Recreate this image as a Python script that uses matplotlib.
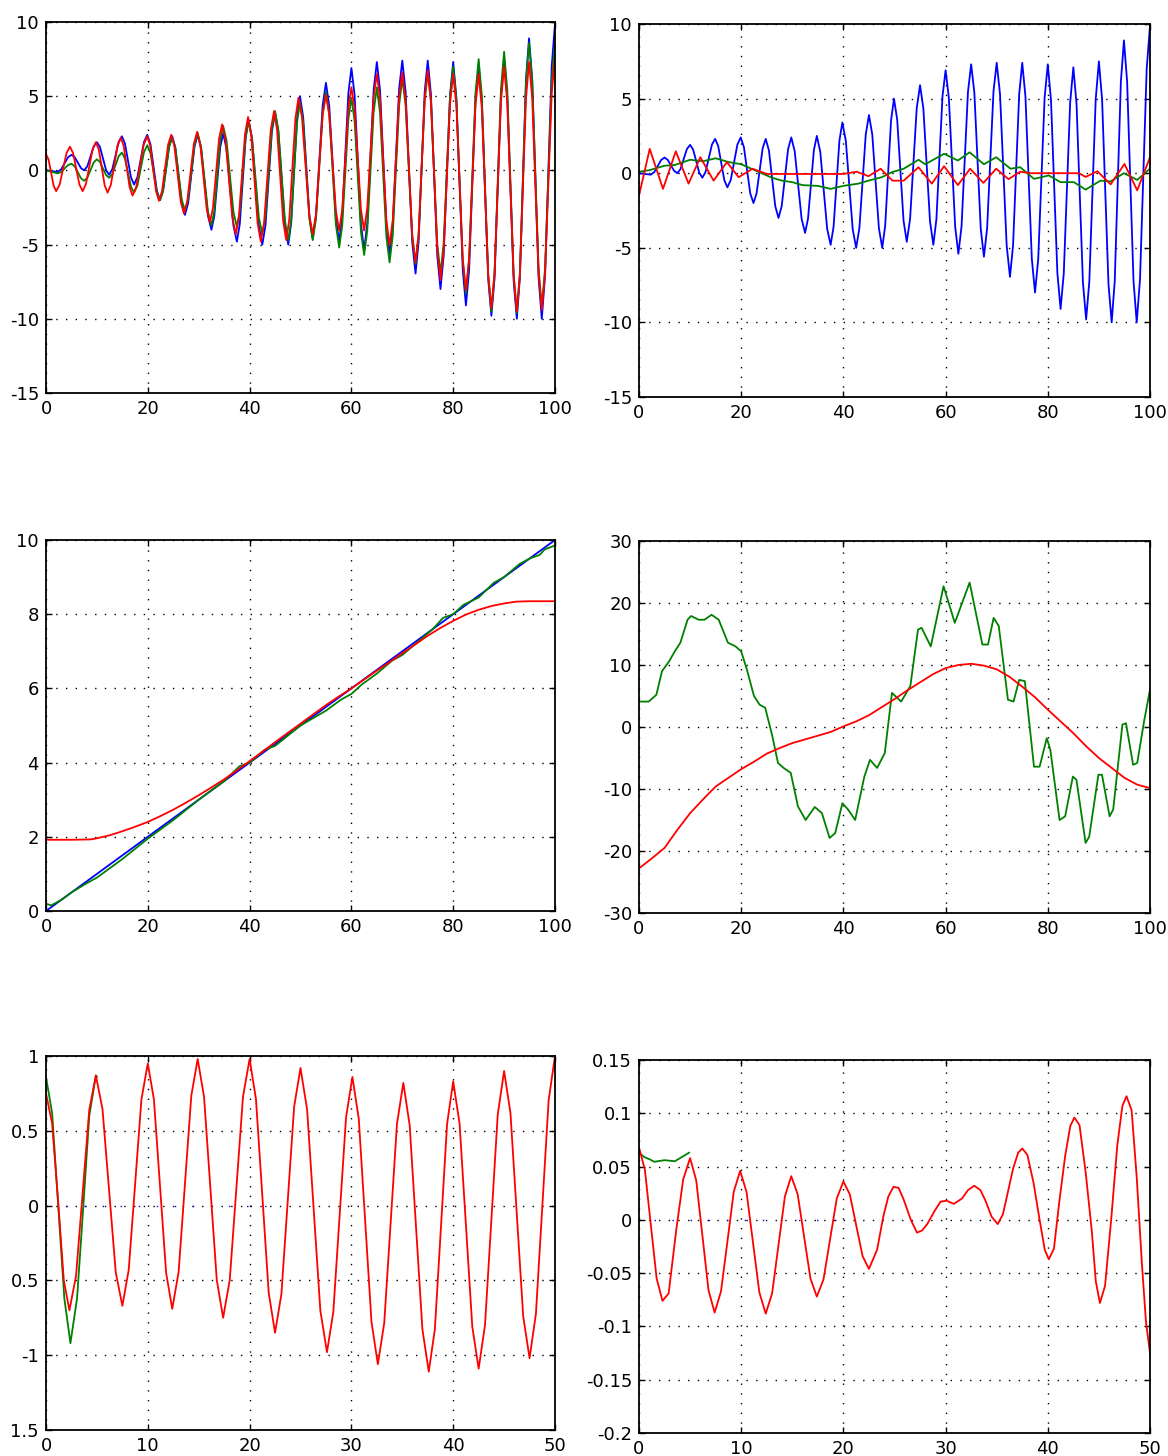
"""Six-panel tracking comparison (MATLAB-style figure)."""

import matplotlib

matplotlib.use("Agg")
import matplotlib.pyplot as plt

BLUE = "#0000ff"
GREEN = "#008000"
RED = "#ff0000"

# ---- true oscillating signal (blue, top panels) ------------------------------
sig_x = [0, 2.3, 2.975, 4.325, 5.0, 5.625, 6.875, 7.5, 8.125, 9.375, 10, 10.6, 11.8, 12.4,
         13.025, 14.275, 14.9, 15.5, 16.7, 17.3, 17.95, 19.25, 19.9, 20.525, 21.775, 22.4,
         23.0, 24.2, 24.8, 25.425, 26.675, 27.3, 27.925, 29.175, 29.8, 30.475, 31.825, 32.5,
         33.075, 34.225, 34.8, 35.475, 36.825, 37.5, 38.075, 39.225, 39.8, 40.475, 41.825,
         42.5, 43.125, 44.375, 45.0, 45.65, 46.95, 47.6, 48.175, 49.325, 49.9, 50.525,
         51.775, 52.4, 53.05, 54.35, 55.0, 55.65, 56.95, 57.6, 58.2, 59.4, 60, 60.625,
         61.875, 62.5, 63.125, 64.375, 65, 65.625, 66.875, 67.5, 68.125, 69.375, 70, 70.65,
         71.95, 72.6, 73.2, 74.4, 75, 75.625, 76.875, 77.5, 78.125, 79.375, 80, 80.625,
         81.875, 82.5, 83.125, 84.375, 85, 85.625, 86.875, 87.5, 88.125, 89.375, 90, 90.625,
         91.875, 92.5, 93.1, 94.3, 94.9, 95.525, 96.775, 97.4, 98.05, 99.35, 100]
sig_y = [0, -0.1, 0.068, 0.882, 1.05, 0.896, 0.154, 0.0, 0.278, 1.622, 1.9, 1.578, 0.022,
         -0.3, 0.081, 1.919, 2.3, 1.824, -0.474, -0.95, -0.459, 1.909, 2.4, 1.755, -1.355,
         -2.0, -1.370, 1.670, 2.3, 1.524, -2.224, -3.0, -2.209, 1.609, 2.4, 1.462, -3.062,
         -4.0, -3.048, 1.548, 2.5, 1.431, -3.731, -4.8, -3.599, 2.199, 3.4, 2.169, -3.769,
         -5.0, -3.696, 2.596, 3.9, 2.596, -3.696, -5.0, -3.535, 3.535, 5.0, 3.594, -3.194,
         -4.6, -3.062, 4.362, 5.9, 4.332, -3.232, -4.8, -3.086, 5.186, 6.9, 5.098, -3.598,
         -5.4, -3.539, 5.439, 7.3, 5.410, -3.710, -5.6, -3.696, 5.496, 7.4, 5.298, -4.848,
         -6.95, -4.848, 5.298, 7.4, 5.144, -5.744, -8.0, -5.759, 5.059, 7.3, 4.897, -6.697,
         -9.1, -6.727, 4.727, 7.1, 4.624, -7.324, -9.8, -7.266, 4.966, 7.5, 4.936, -7.436,
         -10.0, -7.231, 6.131, 8.9, 6.131, -7.231, -10.0, -7.085, 6.985, 9.9]

# ---- panel 1 (top left): green and red estimates -------------------------------
p1_green_y = [0, -0.2, -0.105, 0.355, 0.45, 0.282, -0.532, -0.7, -0.488, 0.538, 0.75,
              0.567, -0.317, -0.5, -0.251, 0.951, 1.2, 0.804, -1.104, -1.5, -1.031, 1.231,
              1.7, 1.158, -1.458, -2.0, -1.385, 1.585, 2.2, 1.482, -1.982, -2.7, -1.938,
              1.738, 2.5, 1.592, -2.792, -3.7, -2.718, 2.018, 3.0, 2.004, -2.804, -3.8,
              -2.760, 2.260, 3.3, 2.187, -3.187, -4.3, -3.084, 2.784, 4.0, 2.725, -3.425,
              -4.7, -3.338, 3.238, 4.6, 3.238, -3.338, -4.7, -3.235, 3.835, 5.3, 3.762,
              -3.662, -5.2, -3.720, 3.420, 4.9, 3.347, -4.147, -5.7, -4.045, 3.945, 5.6,
              3.871, -4.471, -6.2, -4.383, 4.383, 6.2, 4.369, -4.469, -6.3, -4.410, 4.710,
              6.6, 4.615, -4.965, -6.95, -4.906, 4.956, 7.0, 4.759, -6.059, -8.3, -5.985,
              5.185, 7.5, 5.010, -7.010, -9.5, -6.936, 5.436, 8.0, 5.422, -7.022, -9.6,
              -6.934, 5.934, 8.6, 5.992, -6.592, -9.2, -6.592, 5.992, 8.6]
p1_red_x = [0, 0.5, 1.5, 2.0, 2.675, 4.025, 4.7, 5.325, 6.575, 7.2, 7.85, 9.15, 9.8, 10.375,
            11.525, 12.1, 12.75, 14.05, 14.7, 15.275, 16.425, 17.0, 17.725, 19.175, 19.9,
            20.475, 21.625, 22.2, 22.8, 24.0, 24.6, 25.225, 26.475, 27.1, 27.75, 29.05, 29.7,
            30.325, 31.575, 32.2, 32.8, 34.0, 34.6, 35.275, 36.625, 37.3, 37.9, 39.1, 39.7,
            40.325, 41.575, 42.2, 42.85, 44.15, 44.8, 45.4, 46.6, 47.2, 47.8, 49.0, 49.6,
            50.3, 51.7, 52.4, 53.05, 54.35, 55.0, 55.65, 56.95, 57.6, 58.2, 59.4, 60, 60.625,
            61.875, 62.5, 63.125, 64.375, 65, 65.625, 66.875, 67.5, 68.125, 69.375, 70,
            70.65, 71.95, 72.6, 73.2, 74.4, 75, 75.625, 76.875, 77.5, 78.125, 79.375, 80,
            80.625, 81.875, 82.5, 83.125, 84.375, 85, 85.625, 86.875, 87.5, 88.125, 89.375,
            90, 90.625, 91.875, 92.5, 93.1, 94.3, 94.9, 95.525, 96.775, 97.4, 98.05, 99.35,
            100]
p1_red_y = [1.1, 0.734, -1.034, -1.4, -0.961, 1.161, 1.6, 1.161, -0.961, -1.4, -0.917,
            1.417, 1.9, 1.402, -1.002, -1.5, -0.958, 1.658, 2.2, 1.629, -1.129, -1.7,
            -1.114, 1.714, 2.3, 1.663, -1.413, -2.05, -1.398, 1.748, 2.4, 1.624, -2.124,
            -2.9, -2.094, 1.794, 2.6, 1.706, -2.606, -3.5, -2.533, 2.133, 3.1, 2.016,
            -3.216, -4.3, -3.143, 2.443, 3.6, 2.369, -3.569, -4.8, -3.511, 2.711, 4.0, 2.725,
            -3.425, -4.7, -3.294, 3.494, 4.9, 3.552, -2.952, -4.3, -2.923, 3.723, 5.1, 3.760,
            -2.710, -4.05, -2.636, 4.186, 5.6, 4.186, -2.636, -4.05, -2.504, 4.954, 6.5,
            4.808, -3.358, -5.05, -3.343, 4.893, 6.6, 4.725, -4.325, -6.2, -4.303, 4.853,
            6.75, 4.677, -5.327, -7.4, -5.364, 4.464, 6.5, 4.361, -5.961, -8.1, -5.961, 4.361,
            6.5, 4.185, -6.985, -9.3, -6.912, 4.612, 7.0, 4.583, -7.083, -9.5, -7.039, 4.839,
            7.3, 4.853, -6.953, -9.4, -6.895, 5.195, 7.7]

# ---- panel 2 (top right) -----------------------------------------------------
p2_green_x = [0, 2, 5, 7, 10, 12.5, 15, 17.5, 20, 22, 24, 26, 28, 30, 32, 35, 37.5, 40,
              42.9, 44.9, 47.5, 49.5, 51.8, 54.7, 56, 59.7, 62.4, 64.7, 67.5, 69.9, 72.7,
              74.6, 77.3, 80.2, 82.5, 85.1, 87.4, 90.3, 92.3, 94.9, 97.5, 100]
p2_green_y = [0.1, 0.2, 0.5, 0.55, 0.9, 0.8, 1.0, 0.75, 0.6, 0.3, 0.0, -0.3, -0.5, -0.6,
              -0.8, -0.85, -1.05, -0.85, -0.7, -0.5, -0.27, 0.07, 0.3, 0.9, 0.6, 1.3, 0.85,
              1.4, 0.6, 1.07, 0.3, 0.4, -0.38, -0.15, -0.6, -0.6, -1.1, -0.5, -0.55, 0.0,
              -0.45, 0.3]
p2_red_x = [0, 2.1, 4.7, 7.2, 9.7, 12.0, 14.6, 17.2, 19.5, 22.2, 25.0, 30, 35, 40, 42.6,
            44.9, 47.3, 49.6, 51.8, 54.7, 57.3, 59.7, 62.4, 64.8, 67.4, 69.9, 72.3, 74.6,
            76.6, 80, 86.1, 87.4, 89.7, 92.3, 95.0, 97.5, 100]
p2_red_y = [-1.5, 1.63, -1.05, 1.47, -0.7, 1.07, -0.5, 0.74, -0.27, 0.3, -0.05, -0.05,
            -0.05, -0.05, 0.1, -0.2, 0.3, -0.5, -0.5, 0.4, -0.7, 0.47, -0.8, 0.3, -0.65,
            0.3, -0.4, 0.1, 0.0, 0.0, 0.0, -0.25, 0.13, -0.75, 0.62, -1.15, 1.07]

# ---- panel 3 (middle left): ramp ----------------------------------------------
p3_blue_x = [0, 100]
p3_blue_y = [0, 10]
p3_green_x = [0, 1, 3, 5, 8, 10, 15, 20, 25, 30, 35, 38, 40, 43, 45, 50, 55, 58, 60, 62,
              65, 68, 70, 73, 76, 78, 80, 82, 85, 88, 90, 93, 95, 97, 98, 99, 100]
p3_green_y = [0.2, 0.15, 0.3, 0.5, 0.75, 0.9, 1.4, 1.95, 2.45, 3.0, 3.5, 3.9, 4.0, 4.35,
              4.45, 5.0, 5.4, 5.7, 5.85, 6.1, 6.4, 6.75, 6.9, 7.25, 7.6, 7.9, 8.0, 8.25,
              8.45, 8.85, 9.0, 9.35, 9.5, 9.6, 9.75, 9.8, 9.85]
p3_red_x = [0, 5, 8.8, 10, 12.5, 15, 17.5, 20, 22.5, 25, 27.5, 30, 32.5, 35, 37.5, 40,
            42.5, 45, 47.5, 50, 52.5, 55, 57.5, 60, 62.5, 65, 67.5, 70, 72.5, 75, 77.5, 80,
            82.5, 85, 87.5, 90, 92.5, 95, 100]
p3_red_y = [1.92, 1.92, 1.93, 1.96, 2.04, 2.15, 2.27, 2.4, 2.56, 2.73, 2.92, 3.12, 3.33,
            3.55, 3.79, 4.04, 4.29, 4.55, 4.8, 5.05, 5.3, 5.55, 5.78, 6.0, 6.24, 6.48, 6.71,
            6.95, 7.18, 7.42, 7.63, 7.82, 7.99, 8.12, 8.22, 8.29, 8.34, 8.35, 8.35]

# ---- panel 4 (middle right) -----------------------------------------------------
p4_green_x = [0, 1.9, 3.4, 4.5, 5.9, 7.0, 8.1, 9.5, 10.2, 11.7, 12.8, 14.2, 15.6, 17.4,
              18.9, 20.0, 21.1, 22.5, 23.6, 24.7, 26.1, 27.2, 28.3, 29.7, 31.1, 32.6, 34.4,
              35.8, 37.3, 38.4, 39.8, 40.9, 42.3, 44.1, 45.2, 46.6, 48.1, 49.5, 51.3, 53.1,
              54.6, 55.3, 57.1, 59.6, 61.8, 64.7, 67.2, 68.3, 69.4, 70.4, 72.2, 73.3, 74.4,
              75.5, 77.3, 78.4, 79.8, 80.5, 82.3, 83.4, 84.9, 85.6, 87.4, 88.1, 89.9, 90.6,
              92.1, 92.8, 94.6, 95.3, 96.7, 97.5, 98.9, 100]
p4_green_y = [4.1, 4.1, 5.2, 9.0, 10.6, 12.2, 13.6, 17.3, 17.9, 17.3, 17.3, 18.1, 17.3,
              13.6, 13.0, 12.2, 9.3, 5.0, 3.6, 3.1, -1.5, -5.8, -6.6, -7.4, -12.8, -15.0,
              -12.9, -13.9, -17.9, -17.1, -12.3, -13.3, -15.0, -8.0, -5.3, -6.6, -4.2, 5.5,
              4.1, 6.6, 15.7, 16.0, 13.0, 22.7, 16.8, 23.3, 13.3, 13.3, 17.6, 16.3, 4.4,
              4.1, 7.6, 7.4, -6.4, -6.4, -1.8, -3.7, -15.0, -14.4, -8.0, -8.5, -18.7,
              -17.7, -7.7, -7.7, -14.4, -13.3, 0.4, 0.6, -6.1, -5.8, 1.2, 6.0]
p4_red_x = [0, 2.5, 5, 7.5, 10, 12.5, 15, 17.5, 20, 22.5, 25, 27.5, 30, 32.5, 35, 37.5, 40,
            42.5, 45, 47.5, 50, 52.5, 55, 57.5, 60, 62.5, 65, 67.5, 70, 72.5, 75, 77.5, 80,
            82.5, 85, 87.5, 90, 92.5, 95, 97.5, 100]
p4_red_y = [-22.8, -21.2, -19.5, -16.6, -13.9, -11.7, -9.6, -8.2, -6.8, -5.6, -4.3, -3.4,
            -2.6, -2.0, -1.4, -0.8, 0.1, 0.9, 1.9, 3.2, 4.5, 5.9, 7.2, 8.5, 9.5, 10.0, 10.2,
            9.9, 9.3, 8.1, 6.5, 4.8, 2.8, 0.9, -1.0, -3.1, -5.0, -6.6, -8.2, -9.3, -9.85]

# ---- panel 5 (bottom left) --------------------------------------------------------
p5_blue_x = [2, 22]
p5_blue_y = [0, 0]
p5_green_x = [0, 0.6, 1.2, 1.8, 2.4, 3.05, 3.65, 4.25, 4.9, 5.0]
p5_green_y = [0.86, 0.62, 0.0, -0.62, -0.92, -0.62, -0.02, 0.6, 0.87, 0.86]
p5_red_x = [0, 0.6, 1.2, 1.75, 2.3, 2.95, 3.6, 4.25, 4.9, 5.55, 6.2, 6.85, 7.5, 8.125,
            8.75, 9.375, 10.0, 10.6, 11.2, 11.8, 12.4, 13.025, 13.65, 14.275, 14.9, 15.525,
            16.15, 16.775, 17.4, 18.05, 18.7, 19.35, 20.0, 20.625, 21.25, 21.875, 22.5,
            23.125, 23.75, 24.375, 25.0, 25.65, 26.3, 26.95, 27.6, 28.225, 28.85, 29.475,
            30.1, 30.725, 31.35, 31.975, 32.6, 33.225, 33.85, 34.475, 35.1, 35.725, 36.35,
            36.975, 37.6, 38.2, 38.8, 39.4, 40.0, 40.625, 41.25, 41.875, 42.5, 43.125,
            43.75, 44.375, 45.0, 45.625, 46.25, 46.875, 47.5, 48.125, 48.75, 49.375, 50.0]
p5_red_y = [0.75, 0.55, 0.02, -0.5, -0.70, -0.47, 0.085, 0.64, 0.87, 0.645, 0.10, -0.445,
            -0.67, -0.43, 0.14, 0.71, 0.95, 0.71, 0.13, -0.45, -0.69, -0.445, 0.145, 0.735,
            0.98, 0.727, 0.115, -0.497, -0.75, -0.497, 0.115, 0.727, 0.98, 0.712, 0.065,
            -0.582, -0.85, -0.591, 0.035, 0.661, 0.92, 0.642, -0.03, -0.702, -0.98, -0.71,
            -0.06, 0.59, 0.86, 0.579, -0.10, -0.779, -1.06, -0.785, -0.12, 0.545, 0.82,
            0.537, -0.145, -0.827, -1.11, -0.826, -0.14, 0.546, 0.83, 0.549, -0.13, -0.809,
            -1.09, -0.798, -0.095, 0.608, 0.90, 0.619, -0.06, -0.739, -1.02, -0.724, -0.01,
            0.704, 1.0]

# ---- panel 6 (bottom right) ---------------------------------------------------------
p6_blue_x = [1.5, 20]
p6_blue_y = [0, 0]
p6_green_x = [0, 0.5, 1.0, 1.5, 2.5, 3.5, 4.2, 4.9]
p6_green_y = [0.063, 0.059, 0.057, 0.0545, 0.056, 0.055, 0.059, 0.063]
p6_red_x = [0, 0.575, 1.15, 1.725, 2.3, 2.9, 3.65, 4.325, 5.0, 5.6, 6.2, 6.8, 7.4, 8.025,
            8.65, 9.275, 9.9, 10.525, 11.15, 11.775, 12.4, 13.025, 13.65, 14.275, 14.9,
            15.525, 16.15, 16.775, 17.4, 18.05, 18.7, 19.35, 20.0, 20.625, 21.25, 21.875,
            22.5, 23.3, 23.9, 24.4, 24.9, 25.4, 25.9, 26.6, 27.2, 27.7, 28.2, 28.9, 29.5,
            30.1, 30.8, 31.6, 32.2, 32.8, 33.4, 33.9, 34.5, 35.1, 35.6, 36.0, 36.6, 37.1,
            37.5, 38.0, 38.6, 39.2, 39.7, 40.1, 40.6, 41.1, 41.7, 42.2, 42.6, 43.1, 43.7,
            44.3, 44.7, 45.1, 45.6, 46.2, 46.8, 47.3, 47.7, 48.2, 48.7, 49.2, 49.6, 50.0]
p6_red_y = [0.068, 0.047, -0.004, -0.055, -0.076, -0.069, -0.009, 0.038, 0.058, 0.037,
            -0.0145, -0.066, -0.087, -0.067, -0.0205, 0.0265, 0.046, 0.026, -0.021, -0.068,
            -0.088, -0.069, -0.0235, 0.022, 0.041, 0.024, -0.0155, -0.055, -0.072, -0.056,
            -0.018, 0.020, 0.036, 0.024, -0.005, -0.034, -0.046, -0.028, 0.003, 0.022,
            0.031, 0.030, 0.019, 0.0, -0.012, -0.010, -0.004, 0.008, 0.017, 0.018, 0.015,
            0.020, 0.028, 0.032, 0.028, 0.018, 0.003, -0.004, 0.005, 0.022, 0.048, 0.063,
            0.067, 0.061, 0.035, 0.0, -0.028, -0.037, -0.027, 0.015, 0.06, 0.088, 0.096,
            0.089, 0.045, -0.01, -0.058, -0.078, -0.062, 0.0, 0.07, 0.107, 0.116, 0.103,
            0.04, -0.04, -0.095, -0.125]

# tick positions / labels
ticks_x100 = [0, 20, 40, 60, 80, 100]
ticks_x50 = [0, 10, 20, 30, 40, 50]
ticks_y1 = [-15, -10, -5, 0, 5, 10]
ticks_y3 = [0, 2, 4, 6, 8, 10]
ticks_y4 = [-30, -20, -10, 0, 10, 20, 30]
ticks_y5 = [-1.5, -1, -0.5, 0, 0.5, 1]
labels_y5 = ["1.5", "-1", "0.5", "0", "0.5", "1"]  # as printed (minus signs clipped)
ticks_y6 = [-0.2, -0.15, -0.1, -0.05, 0, 0.05, 0.1, 0.15]

W, H = 1168, 1456


def _axes(fig, x0, y_top, x1, y_bot):
    return fig.add_axes([x0 / W, (H - y_bot) / H, (x1 - x0) / W, (y_bot - y_top) / H])


def _style(ax, xlim, ylim, xticks, yticks, ylabels=None):
    ax.set_xlim(*xlim)
    ax.set_ylim(*ylim)
    ax.set_xticks(xticks)
    ax.set_yticks(yticks)
    ax.set_xticklabels([f"{t:g}" for t in xticks])
    ax.set_yticklabels(ylabels if ylabels else [f"{t:g}" for t in yticks])
    ax.grid(True, color="black", linestyle=(0, (1, 6)), linewidth=1.0)
    ax.set_axisbelow(True)
    ax.tick_params(direction="in", top=True, right=True, length=4, width=1,
                   labelsize=13, pad=5)
    for s in ax.spines.values():
        s.set_linewidth(1.3)


fig = plt.figure(figsize=(W / 100, H / 100), dpi=100)
lw = 1.3

ax1 = _axes(fig, 46, 22, 555, 393)
ax1.plot(sig_x, sig_y, color=BLUE, lw=lw)
ax1.plot(sig_x, p1_green_y, color=GREEN, lw=lw)
ax1.plot(p1_red_x, p1_red_y, color=RED, lw=lw)
_style(ax1, (0, 100), (-15, 10), ticks_x100, ticks_y1)

ax2 = _axes(fig, 639, 24, 1150, 397)
ax2.plot(sig_x, sig_y, color=BLUE, lw=lw)
ax2.plot(p2_green_x, p2_green_y, color=GREEN, lw=lw)
ax2.plot(p2_red_x, p2_red_y, color=RED, lw=lw)
_style(ax2, (0, 100), (-15, 10), ticks_x100, ticks_y1)

ax3 = _axes(fig, 46, 540, 555, 911)
ax3.plot(p3_blue_x, p3_blue_y, color=BLUE, lw=lw)
ax3.plot(p3_green_x, p3_green_y, color=GREEN, lw=lw)
ax3.plot(p3_red_x, p3_red_y, color=RED, lw=lw)
_style(ax3, (0, 100), (0, 10), ticks_x100, ticks_y3)

ax4 = _axes(fig, 639, 541, 1150, 913)
ax4.plot(p4_green_x, p4_green_y, color=GREEN, lw=lw)
ax4.plot(p4_red_x, p4_red_y, color=RED, lw=lw)
_style(ax4, (0, 100), (-30, 30), ticks_x100, ticks_y4)

ax5 = _axes(fig, 46, 1056, 555, 1430)
ax5.plot(p5_blue_x, p5_blue_y, color=BLUE, lw=1.0, linestyle=(0, (1, 12)))
ax5.plot(p5_green_x, p5_green_y, color=GREEN, lw=lw)
ax5.plot(p5_red_x, p5_red_y, color=RED, lw=lw)
_style(ax5, (0, 50), (-1.5, 1), ticks_x50, ticks_y5, labels_y5)

ax6 = _axes(fig, 639, 1060, 1150, 1433)
ax6.plot(p6_blue_x, p6_blue_y, color=BLUE, lw=1.0, linestyle=(0, (1, 12)))
ax6.plot(p6_green_x, p6_green_y, color=GREEN, lw=lw)
ax6.plot(p6_red_x, p6_red_y, color=RED, lw=lw)
_style(ax6, (0, 50), (-0.2, 0.15), ticks_x50, ticks_y6)

fig.savefig("out.png", dpi=100)
plt.close(fig)
